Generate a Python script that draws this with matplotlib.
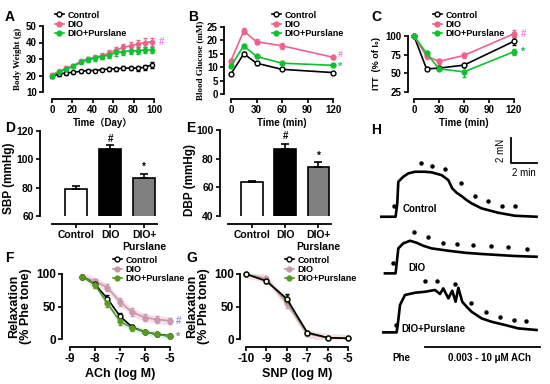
import matplotlib
matplotlib.use("Agg")
import matplotlib.pyplot as plt
import numpy as np

plt.rcParams['font.family'] = ['Liberation Sans', 'DejaVu Sans']
plt.rcParams['font.weight'] = 'bold'
plt.rcParams['axes.linewidth'] = 1.3

W, H = 550, 384
PT = 100 / 72  # px per point

# colours
C_CTRL = 'black'
C_DIO = '#f0628c'
C_PUR = '#10c030'
C_DIO2 = '#c898ac'
C_PUR2 = '#5a9a20'

# ---- A: body weight ----
days = [0, 7, 14, 21, 28, 35, 42, 49, 56, 63, 70, 77, 84, 91, 98]
bw_ctrl = [19.5, 21, 21.5, 22, 22.5, 23, 23, 23.5, 24, 24, 24.5, 24.5, 24.5, 25, 26.5]
bw_ctrl_err = [0.8, 1, 1, 1, 1, 1, 1, 1, 1, 1, 1, 1.2, 1.5, 1.5, 1.8]
bw_dio = [20.5, 22.5, 24.5, 26, 28.5, 30, 31, 32, 33.5, 35.5, 37, 38, 39, 40, 40.5]
bw_dio_err = [0.8, 1, 1, 1.2, 1.2, 1.5, 1.5, 1.8, 2, 2, 2.2, 2.2, 2.5, 2.5, 2.5]
bw_pur = [20, 22, 24, 25.5, 28, 29.5, 30.5, 31.5, 32.5, 34, 34.5, 35, 35, 35.5, 35.5]
bw_pur_err = [0.8, 1, 1, 1.2, 1.2, 1.5, 1.5, 1.8, 2, 2, 2, 2, 2, 2, 2]

# ---- B: glucose tolerance ----
gtt_t = [0, 15, 30, 60, 120]
gtt_ctrl = [7.5, 15, 11.5, 9.2, 8]
gtt_ctrl_err = [0.4, 0.6, 0.5, 0.4, 0.3]
gtt_dio = [12.5, 23.5, 19.5, 18, 13.7]
gtt_dio_err = [0.5, 1.2, 1.0, 1.2, 0.6]
gtt_pur = [10.5, 18, 14, 11.5, 10.7]
gtt_pur_err = [0.4, 0.8, 0.6, 0.5, 0.4]

# ---- C: insulin tolerance ----
itt_t = [0, 15, 30, 60, 120]
itt_ctrl = [100, 56, 57, 61, 93]
itt_ctrl_err = [0, 2, 2, 3, 5]
itt_dio = [100, 73, 66, 74, 103]
itt_dio_err = [0, 4, 3, 3, 5]
itt_pur = [100, 77, 56, 52, 79]
itt_pur_err = [0, 3, 2, 7, 4]

# ---- D / E: blood pressure ----
groups = ['Control', 'DIO', 'DIO+\nPurslane']
sbp = [79, 107.5, 87]
sbp_err = [2, 2.5, 3]
dbp = [63.5, 87, 74.5]
dbp_err = [1, 3, 3]

# ---- F: ACh relaxation ----
ach = [-8.5, -8, -7.5, -7, -6.5, -6, -5.5, -5]
ach_ctrl = [96, 84, 62, 35, 18, 11, 7, 5]
ach_ctrl_err = [2, 3, 5, 5, 3, 2, 2, 2]
ach_dio = [96, 89, 79, 57, 41, 33, 30, 28]
ach_dio_err = [3, 4, 5, 6, 6, 5, 5, 5]
ach_pur = [96, 83, 55, 27, 17, 11, 7, 4]
ach_pur_err = [3, 4, 6, 5, 4, 3, 3, 3]

# ---- G: SNP relaxation ----
snp = [-10, -9, -8, -7, -6, -5]
snp_ctrl = [100, 89, 62, 10, 2, 1]
snp_ctrl_err = [0, 3, 8, 2, 1, 1]
snp_dio = [100, 93, 55, 8, 2, 1]
snp_dio_err = [0, 4, 8, 2, 1, 1]
snp_pur = [100, 90, 60, 9, 2, 1]
snp_pur_err = [0, 3, 8, 2, 1, 1]

# ---- H: tension traces (min, mN above own baseline) ----
tr_ctrl_t = [0, 1.2, 1.33, 1.41, 1.79, 2.18, 2.69, 3.46, 3.97, 4.74, 5.26, 5.56, 5.9, 6.28, 6.67, 7.05, 7.82, 9.1, 10.38, 12.05]
tr_ctrl_v = [0, 0, 1.07, 2.8, 3.2, 3.47, 3.6, 3.6, 3.55, 3.33, 2.93, 2.27, 1.92, 1.65, 1.33, 1.07, 0.67, 0.32, 0.08, 0]
dot_ctrl_t = [1.1, 3.15, 4.03, 5.0, 6.23, 7.31, 8.33, 9.36, 10.38]
dot_ctrl_v = [0.48, 3.92, 3.73, 3.47, 2.32, 1.33, 0.88, 0.53, 0.53]
tr_dio_t = [0.38, 1.2, 1.41, 1.79, 2.31, 2.82, 3.33, 3.97, 5.26, 6.54, 7.82, 9.1, 10.38, 12.05]
tr_dio_v = [0, 0, 2.0, 2.4, 2.61, 2.45, 2.21, 2.0, 1.81, 1.65, 1.55, 1.47, 1.39, 1.33]
dot_dio_t = [1.03, 2.64, 3.67, 4.87, 5.9, 7.13, 8.54, 9.87, 11.28]
dot_dio_v = [0.45, 2.99, 2.56, 2.11, 2.0, 1.92, 1.87, 1.76, 1.6]
tr_pur_t = [0.26, 1.28, 1.41, 1.54, 1.92, 2.69, 3.46, 4.23, 4.62, 4.87, 5.26, 5.56, 5.82, 6.03, 6.33, 6.67, 7.05, 7.82, 8.59, 9.62, 10.64, 12.05]
tr_pur_v = [0, 0, 0.99, 2.19, 2.99, 3.17, 3.25, 3.39, 3.07, 3.52, 2.72, 3.33, 2.45, 3.57, 2.45, 2.05, 1.65, 1.12, 0.85, 0.59, 0.32, 0.19]
dot_pur_t = [1.21, 3.46, 4.36, 5.77, 7.0, 8.13, 9.23, 10.31, 11.21]
dot_pur_v = [0.24, 3.76, 3.73, 3.49, 1.97, 1.25, 0.85, 0.67, 0.59]
trace_offsets = [11.86, 7.33, 2.61]

fig = plt.figure(figsize=(W / 100, H / 100), dpi=100)


def px_axes(left, top, right, bottom):
    return fig.add_axes([left / W, 1 - bottom / H, (right - left) / W, (bottom - top) / H])


def prism(ax, xoff, yoff, fs=7):
    for s in ['top', 'right']:
        ax.spines[s].set_visible(False)
    ax.spines['left'].set_position(('outward', xoff / PT))
    ax.spines['bottom'].set_position(('outward', yoff / PT))
    ax.tick_params(direction='out', length=3, width=1.2, labelsize=fs, pad=1.5)
    for lab in ax.get_xticklabels() + ax.get_yticklabels():
        lab.set_fontweight('bold')


def curve(ax, x, y, e, color, face, ms=3.5, lw=1.2, mk='o'):
    ax.errorbar(x, y, yerr=e, color=color, marker=mk, ms=ms, mfc=face, mec=color,
                lw=lw, elinewidth=1, capsize=1.5, capthick=1, clip_on=False, zorder=3)


def legend(ax, x, y, handles_spec, fs=6.5):
    hs = []
    for lab, color, face in handles_spec:
        h, = ax.plot([], [], color=color, marker='o', ms=3.5, mfc=face, mec=color, lw=1.2, label=lab)
        hs.append(h)
    ax.legend(handles=hs, loc='upper left', bbox_to_anchor=(x / W, 1 - y / H),
              bbox_transform=fig.transFigure, frameon=False,
              handlelength=1.0, handletextpad=0.4, labelspacing=0.05, borderpad=0,
              prop={'weight': 'bold', 'size': fs})


def letter(x, y, s):
    fig.text(x / W, 1 - y / H, s, fontsize=10, fontweight='bold', ha='left', va='center')


serif = ['Liberation Serif', 'DejaVu Serif']
spec3 = [('Control', C_CTRL, 'white'), ('DIO', C_DIO, C_DIO), ('DIO+Purslane', C_PUR, C_PUR)]

# A
axA = px_axes(52, 26, 154, 92)
curve(axA, days, bw_ctrl, bw_ctrl_err, C_CTRL, 'white', ms=3)
curve(axA, days, bw_dio, bw_dio_err, C_DIO, C_DIO, ms=3)
curve(axA, days, bw_pur, bw_pur_err, C_PUR, C_PUR, ms=3)
axA.set_xlim(0, 100)
axA.set_ylim(10, 50)
axA.set_xticks([0, 20, 40, 60, 80, 100])
axA.set_yticks([10, 20, 30, 40, 50])
prism(axA, 9, 7)
axA.text(105, 40.5, '#', color='#f080f0', fontsize=7, va='center', clip_on=False)
axA.set_xlabel('Time（Day）', fontsize=7, fontweight='bold', labelpad=2,
               family=['Liberation Sans', 'Noto Sans CJK SC'])
axA.set_ylabel('Body Weight (g)', fontsize=6.5, fontweight='bold', family=serif, labelpad=3)
legend(axA, 50, 6, spec3)

# B
axB = px_axes(231, 27, 333, 94)
curve(axB, gtt_t, gtt_ctrl, gtt_ctrl_err, C_CTRL, 'white')
curve(axB, gtt_t, gtt_dio, gtt_dio_err, C_DIO, C_DIO)
curve(axB, gtt_t, gtt_pur, gtt_pur_err, C_PUR, C_PUR)
axB.set_xlim(0, 120)
axB.set_ylim(0, 25)
axB.set_xticks([0, 30, 60, 90, 120])
axB.set_yticks([0, 5, 10, 15, 20, 25])
prism(axB, 7, 5)
axB.text(126, 14.8, '#', color='#e080f0', fontsize=6.5, va='center', clip_on=False)
axB.text(126, 10.2, '*', color='#40c080', fontsize=8, va='center', clip_on=False)
axB.set_xlabel('Time (min)', fontsize=7, fontweight='bold', labelpad=2)
axB.set_ylabel('Blood Glucose (mM)', fontsize=6.5, fontweight='bold', family=serif, labelpad=2)
legend(axB, 267, 6, spec3)

# C
axC = px_axes(414, 36, 514, 92)
curve(axC, itt_t, itt_ctrl, itt_ctrl_err, C_CTRL, 'white')
curve(axC, itt_t, itt_dio, itt_dio_err, C_DIO, C_DIO)
curve(axC, itt_t, itt_pur, itt_pur_err, C_PUR, C_PUR)
axC.set_xlim(0, 120)
axC.set_ylim(25, 100)
axC.set_xticks([0, 30, 60, 90, 120])
axC.set_yticks([25, 50, 75, 100])
prism(axC, 6, 7)
axC.text(128, 103, '#', color='#f080f0', fontsize=7, va='center', clip_on=False)
axC.text(128, 79, '*', color='#20b080', fontsize=8, va='center', clip_on=False)
axC.set_xlabel('Time (min)', fontsize=7, fontweight='bold', labelpad=2)
axC.set_ylabel('ITT  (% of I₀)', fontsize=6.5, fontweight='bold', labelpad=3)
legend(axC, 428, 6, spec3)


def bars(ax, vals, errs, ylim, ticks, ylabel, marks, yoff):
    x = np.arange(len(vals))
    ax.bar(x, vals, width=0.65, bottom=0, color=['white', 'black', '#808080'],
           edgecolor='black', linewidth=1.2, zorder=2)
    ax.errorbar(x, vals, yerr=[np.zeros(len(errs)), errs], fmt='none', ecolor='black',
                elinewidth=1.2, capsize=3, capthick=1.2, zorder=3)
    ax.set_ylim(*ylim)
    ax.set_yticks(ticks)
    ax.set_xlim(-0.72, 2.38)
    ax.set_xticks(x)
    ax.set_xticklabels(groups, fontsize=6.5, fontweight='bold', linespacing=1.0)
    prism(ax, yoff, 8, fs=7.5)
    ax.set_ylabel(ylabel, fontsize=8.5, fontweight='bold', labelpad=3)
    for xi, (s, yv) in zip([1, 2], marks):
        ax.text(xi, yv, s, ha='center', va='center', fontsize=7, fontweight='bold')


# D
axD = px_axes(52, 131, 157, 216)
bars(axD, sbp, sbp_err, (60, 120), [60, 80, 100, 120], 'SBP (mmHg)', [('#', 114), ('*', 95)], 12)
axD.yaxis.set_label_coords(-0.35, 0.44)

# E
axE = px_axes(228, 130, 331, 216)
bars(axE, dbp, dbp_err, (40, 100), [40, 60, 80, 100], 'DBP (mmHg)', [('#', 96), ('*', 82)], 8)
axE.yaxis.set_label_coords(-0.31, 0.42)

spec_fg = [('Control', C_CTRL, 'white'), ('DIO', C_DIO2, C_DIO2), ('DIO+Purslane', C_PUR2, C_PUR2)]

# F
axF = px_axes(70, 274, 170, 339)
axF.fill_between(ach, np.array(ach_dio) - 6, np.array(ach_dio) + 6, color='#f8dcea', lw=0, zorder=1)
axF.fill_between(ach, np.array(ach_pur) - 5, np.array(ach_pur) + 5, color='#d8f6ee', lw=0, zorder=1)
curve(axF, ach, ach_dio, ach_dio_err, C_DIO2, C_DIO2)
curve(axF, ach, ach_ctrl, ach_ctrl_err, C_CTRL, 'white')
curve(axF, ach, ach_pur, ach_pur_err, C_PUR2, C_PUR2)
axF.set_xlim(-9, -5)
axF.set_ylim(0, 100)
axF.set_xticks([-9, -8, -7, -6, -5])
axF.set_xticklabels(['-9', '-8', '-7', '-6', '-5'])
axF.set_yticks([0, 50, 100])
prism(axF, 8, 8, fs=8.5)
axF.text(-4.75, 28, '#', color='#9090e0', fontsize=7, va='center', clip_on=False)
axF.text(-4.75, 4, '*', color='#909090', fontsize=8, va='center', clip_on=False)
axF.set_xlabel('ACh (log M)', fontsize=9, fontweight='bold', labelpad=2)
axF.set_ylabel('Relaxation\n(% Phe tone)', fontsize=9, fontweight='bold', labelpad=3, linespacing=1.0)
legend(axF, 108, 251, spec_fg, fs=6.5)

# G
axG = px_axes(246, 274, 348, 339)
axG.fill_between(snp, np.array(snp_dio) - 6, np.array(snp_dio) + 6, color='#f3dde6', lw=0, zorder=1)
curve(axG, snp, snp_dio, snp_dio_err, C_DIO2, C_DIO2)
curve(axG, snp, snp_pur, snp_pur_err, C_PUR2, C_PUR2)
curve(axG, snp, snp_ctrl, snp_ctrl_err, C_CTRL, 'white')
axG.set_xlim(-10, -5)
axG.set_ylim(0, 100)
axG.set_xticks([-10, -9, -8, -7, -6, -5])
axG.set_xticklabels(['-10', '-9', '-8', '-7', '-6', '-5'])
axG.set_yticks([0, 50, 100])
prism(axG, 6, 8, fs=8.5)
axG.set_xlabel('SNP (log M)', fontsize=9, fontweight='bold', labelpad=2)
axG.set_ylabel('Relaxation\n(% Phe tone)', fontsize=9, fontweight='bold', labelpad=3, linespacing=1.0)
legend(axG, 280, 251, spec_fg, fs=6.5)

# H
axH = px_axes(380, 125, 545, 365)
axH.set_xlim(0, 12.7)
axH.set_ylim(0, 19.2)
axH.axis('off')
traces = [(tr_ctrl_t, tr_ctrl_v, dot_ctrl_t, dot_ctrl_v, 'Control', 1.77, 0.6),
          (tr_dio_t, tr_dio_v, dot_dio_t, dot_dio_v, 'DIO', 2.15, 0.4),
          (tr_pur_t, tr_pur_v, dot_pur_t, dot_pur_v, 'DIO+Purslane', 1.67, 0.24)]
for (tt, tv, dt, dv, name, lx, ly), off in zip(traces, trace_offsets):
    axH.plot(tt, np.array(tv) + off, color='black', lw=1.9)
    axH.plot(dt, np.array(dv) + off + 0.35, 'o', color='black', ms=2.2)
    axH.text(lx, off + ly, name, fontsize=7, fontweight='bold', va='center')
axH.plot([10.08, 10.08, 12.08], [18.16, 16.16, 16.16], color='black', lw=1.3)
axH.text(9.3, 17.2, '2 mN', rotation=90, fontsize=7, ha='center', va='center', fontweight='normal')
axH.text(11.1, 15.4, '2 min', fontsize=7, ha='center', va='center', fontweight='normal')
axH.plot([3.46, 12.3], [1.47, 1.47], color='black', lw=1.3)
axH.text(1.67, 0.53, 'Phe', fontsize=7, ha='center', va='center', fontweight='bold')
axH.text(8.46, 0.53, '0.003 - 10 μM ACh', fontsize=7, ha='center', va='center', fontweight='bold')

for x, y, s in [(5, 17, 'A'), (188, 17, 'B'), (371, 17, 'C'), (5, 128, 'D'), (186, 128, 'E'),
                (5, 258, 'F'), (186, 258, 'G'), (371, 130, 'H')]:
    letter(x, y, s)

fig.savefig('out.png', dpi=100)
